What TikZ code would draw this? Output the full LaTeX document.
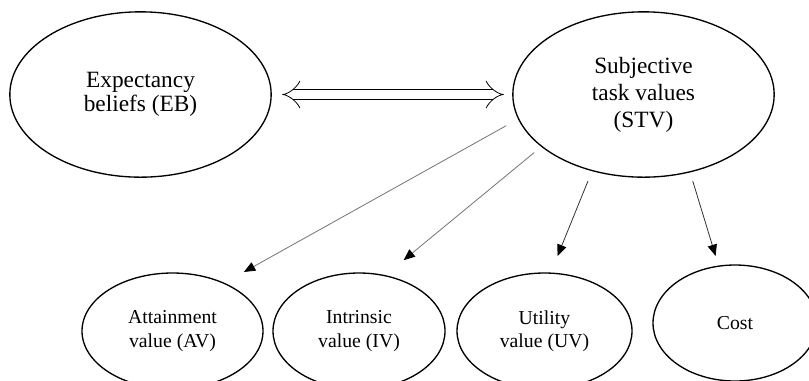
\documentclass[tikz,border=0pt]{standalone}
\usepackage{fontspec}
\setmainfont{Liberation Serif}
\usetikzlibrary{arrows.meta,shapes.geometric}

\begin{document}
\begin{tikzpicture}[x=0.75pt,y=-0.75pt,>={Triangle[length=8.5pt,width=7pt,color=black]},
                    big node/.style={ellipse,draw,line width=1pt,inner sep=0pt,outer sep=0pt,
                      minimum width=196pt,minimum height=124pt,align=center},
                    value node/.style={ellipse,draw,line width=1pt,inner sep=0pt,outer sep=0pt,
                      minimum height=87pt,align=center,font=\fontsize{14.8}{17.5}\selectfont}]
  \useasboundingbox (0,0) rectangle (809,380);
  \clip (0,0) rectangle (809,380);
  \node[big node,font=\fontsize{17.5}{18}\selectfont] (eb) at (140.5,94.5) {Expectancy\\beliefs (EB)};
  \node[big node,font=\fontsize{17.5}{20.3}\selectfont] (stv) at (643.5,94.5) {Subjective\\task values\\(STV)};
  \node[value node,minimum width=135.75pt] (av) at (172.5,331) {Attainment\\value (AV)};
  \node[value node,minimum width=129pt] (iv) at (359,331) {Intrinsic\\value (IV)};
  \node[value node,minimum width=131.25pt] (uv) at (544.5,331) {Utility\\value (UV)};
  \node[value node,minimum width=123pt] (cost) at (735,323) {Cost};
  \path[line width=0.6pt]
    (eb) edge [double,double distance=7pt,{Implies}-{Implies},shorten <=8.3pt,shorten >=6.8pt] (stv)
    (stv.191.4) edge [->,draw=black!55,shorten <=10.6pt,shorten >=17.3pt] (av.43.2)
    (stv.207) edge [->,draw=black!55,shorten <=7.3pt,shorten >=18.3pt] (iv.65.6)
    (stv.236.1) edge [->,draw=black!80,shorten <=8.4pt,shorten >=13.9pt] (uv.84.1)
    (stv.301.7) edge [->,draw=black!80,shorten <=7.4pt,shorten >=8pt] (cost.106.7);
\end{tikzpicture}
\end{document}
